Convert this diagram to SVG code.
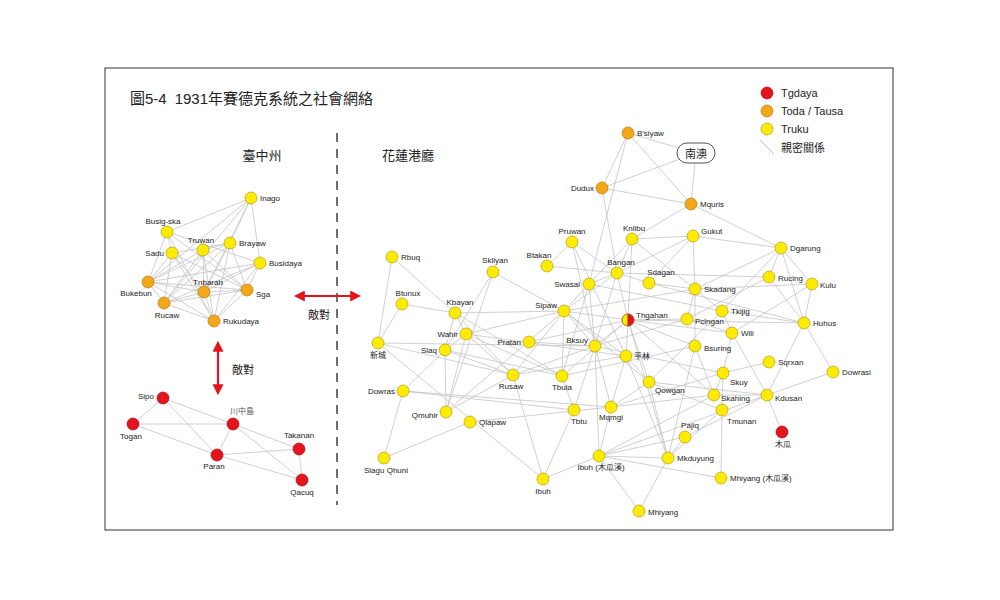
<svg xmlns="http://www.w3.org/2000/svg" width="1000" height="600" viewBox="0 0 1000 600">
<style>
text{font-family:"Liberation Sans","Noto Sans CJK TC",sans-serif;font-size:8px;fill:#222}
.e line{stroke:#c4c4c4;stroke-width:0.8}
.y{fill:#FFEB00;stroke:#B09A20;stroke-width:0.7}
.o{fill:#F2A818;stroke:#B07A10;stroke-width:0.7}
.r{fill:#E3141E;stroke:#A01010;stroke-width:0.7}
.m{text-anchor:middle}.l{text-anchor:end}
.h{font-size:13px}
</style>
<defs><marker id="a" viewBox="0 0 10 10" refX="8" refY="5" markerWidth="5" markerHeight="5" orient="auto-start-reverse"><path d="M0,0L10,5L0,10z" fill="#E3141E"/></marker></defs>
<rect width="1000" height="600" fill="#fff"/>
<rect x="105" y="68" width="788" height="462" fill="none" stroke="#333" stroke-width="1"/>
<text x="130" y="104" style="font-size:15px">圖5-4<tspan dx="8">1931年賽德克系統之社會網絡</tspan></text>
<g id="legend">
<circle cx="767" cy="93" r="6" class="r"/><text x="781" y="97" style="font-size:11px">Tgdaya</text>
<circle cx="767" cy="111" r="6" class="o"/><text x="781" y="115" style="font-size:11px">Toda / Tausa</text>
<circle cx="767" cy="129" r="6" class="y"/><text x="781" y="133" style="font-size:11px">Truku</text>
<line x1="760" y1="140" x2="774" y2="154" stroke="#c4c4c4"/><text x="781" y="152" style="font-size:11px">親密關係</text>
</g>
<text x="262" y="160" class="m h">臺中州</text>
<text x="408" y="160" class="m h">花蓮港廳</text>
<line x1="337" y1="133" x2="337" y2="505" stroke="#222" stroke-width="1.3" stroke-dasharray="9,7"/>
<g id="arrows" stroke="#E3141E" stroke-width="2.2" fill="none">
<line x1="296" y1="296" x2="359" y2="296" marker-start="url(#a)" marker-end="url(#a)"/>
<line x1="218" y1="343" x2="218" y2="393" marker-start="url(#a)" marker-end="url(#a)"/>
</g>
<text x="319" y="319" class="m" style="font-size:11px">敵對</text>
<text x="243" y="374" class="m" style="font-size:11px">敵對</text>
<g id="connectors" class="e">
<line x1="251" y1="198" x2="167" y2="232"/><line x1="251" y1="198" x2="230" y2="243"/><line x1="251" y1="198" x2="260" y2="263"/><line x1="251" y1="198" x2="148" y2="282"/><line x1="251" y1="198" x2="164" y2="303"/><line x1="251" y1="198" x2="204" y2="292"/>
<line x1="167" y1="232" x2="172" y2="253"/><line x1="167" y1="232" x2="148" y2="282"/><line x1="167" y1="232" x2="247" y2="290"/><line x1="167" y1="232" x2="214" y2="321"/><line x1="167" y1="232" x2="260" y2="263"/>
<line x1="172" y1="253" x2="148" y2="282"/><line x1="172" y1="253" x2="164" y2="303"/><line x1="172" y1="253" x2="214" y2="321"/><line x1="172" y1="253" x2="204" y2="292"/><line x1="172" y1="253" x2="247" y2="290"/><line x1="172" y1="253" x2="230" y2="243"/>
<line x1="203" y1="250" x2="148" y2="282"/><line x1="203" y1="250" x2="164" y2="303"/><line x1="203" y1="250" x2="204" y2="292"/><line x1="203" y1="250" x2="247" y2="290"/><line x1="203" y1="250" x2="214" y2="321"/><line x1="203" y1="250" x2="230" y2="243"/>
<line x1="230" y1="243" x2="148" y2="282"/><line x1="230" y1="243" x2="164" y2="303"/><line x1="230" y1="243" x2="214" y2="321"/><line x1="230" y1="243" x2="247" y2="290"/><line x1="230" y1="243" x2="204" y2="292"/>
<line x1="260" y1="263" x2="148" y2="282"/><line x1="260" y1="263" x2="164" y2="303"/><line x1="260" y1="263" x2="247" y2="290"/><line x1="260" y1="263" x2="204" y2="292"/><line x1="260" y1="263" x2="214" y2="321"/>
<line x1="148" y1="282" x2="204" y2="292"/><line x1="148" y1="282" x2="247" y2="290"/><line x1="148" y1="282" x2="164" y2="303"/><line x1="148" y1="282" x2="214" y2="321"/>
<line x1="204" y1="292" x2="247" y2="290"/><line x1="204" y1="292" x2="164" y2="303"/><line x1="204" y1="292" x2="214" y2="321"/><line x1="247" y1="290" x2="214" y2="321"/><line x1="247" y1="290" x2="164" y2="303"/><line x1="164" y1="303" x2="214" y2="321"/>
<line x1="163" y1="398" x2="133" y2="424"/><line x1="163" y1="398" x2="233" y2="424"/><line x1="163" y1="398" x2="217" y2="455"/><line x1="133" y1="424" x2="233" y2="424"/><line x1="133" y1="424" x2="217" y2="455"/><line x1="233" y1="424" x2="217" y2="455"/><line x1="233" y1="424" x2="299" y2="449"/><line x1="233" y1="424" x2="302" y2="480"/><line x1="217" y1="455" x2="299" y2="449"/><line x1="217" y1="455" x2="302" y2="480"/><line x1="299" y1="449" x2="302" y2="480"/>
<line x1="628" y1="133" x2="602" y2="188"/><line x1="628" y1="133" x2="696" y2="153"/><line x1="628" y1="133" x2="691" y2="204"/><line x1="602" y1="188" x2="696" y2="153"/><line x1="602" y1="188" x2="691" y2="204"/><line x1="696" y1="153" x2="691" y2="204"/><line x1="602" y1="188" x2="617" y2="273"/><line x1="691" y1="204" x2="781" y2="248"/><line x1="691" y1="204" x2="632" y2="239"/><line x1="628" y1="133" x2="589" y2="284"/>
<line x1="632" y1="239" x2="693" y2="236"/><line x1="632" y1="239" x2="617" y2="273"/><line x1="632" y1="239" x2="628" y2="320"/><line x1="632" y1="239" x2="695" y2="289"/><line x1="632" y1="239" x2="589" y2="284"/>
<line x1="693" y1="236" x2="781" y2="248"/><line x1="693" y1="236" x2="695" y2="289"/><line x1="693" y1="236" x2="649" y2="283"/><line x1="693" y1="236" x2="617" y2="273"/>
<line x1="781" y1="248" x2="769" y2="277"/><line x1="781" y1="248" x2="804" y2="323"/><line x1="781" y1="248" x2="695" y2="289"/><line x1="781" y1="248" x2="722" y2="311"/><line x1="781" y1="248" x2="812" y2="284"/>
<line x1="769" y1="277" x2="617" y2="273"/><line x1="769" y1="277" x2="804" y2="323"/><line x1="769" y1="277" x2="687" y2="319"/>
<line x1="812" y1="284" x2="804" y2="323"/><line x1="812" y1="284" x2="695" y2="289"/><line x1="812" y1="284" x2="732" y2="333"/>
<line x1="804" y1="323" x2="722" y2="311"/><line x1="804" y1="323" x2="628" y2="320"/><line x1="804" y1="323" x2="767" y2="395"/><line x1="804" y1="323" x2="833" y2="372"/><line x1="804" y1="323" x2="649" y2="283"/>
<line x1="695" y1="289" x2="649" y2="283"/><line x1="695" y1="289" x2="687" y2="319"/><line x1="695" y1="289" x2="722" y2="311"/><line x1="695" y1="289" x2="695" y2="346"/><line x1="695" y1="289" x2="564" y2="311"/>
<line x1="722" y1="311" x2="589" y2="284"/><line x1="722" y1="311" x2="732" y2="333"/><line x1="722" y1="311" x2="649" y2="382"/>
<line x1="687" y1="319" x2="628" y2="320"/><line x1="687" y1="319" x2="732" y2="333"/><line x1="687" y1="319" x2="595" y2="346"/>
<line x1="732" y1="333" x2="723" y2="373"/><line x1="732" y1="333" x2="767" y2="395"/><line x1="732" y1="333" x2="628" y2="320"/>
<line x1="695" y1="346" x2="714" y2="395"/><line x1="695" y1="346" x2="628" y2="320"/><line x1="695" y1="346" x2="562" y2="376"/><line x1="695" y1="346" x2="668" y2="458"/>
<line x1="769" y1="362" x2="723" y2="373"/><line x1="833" y1="372" x2="767" y2="395"/>
<line x1="723" y1="373" x2="714" y2="395"/><line x1="723" y1="373" x2="722" y2="410"/><line x1="723" y1="373" x2="595" y2="346"/><line x1="723" y1="373" x2="611" y2="407"/>
<line x1="714" y1="395" x2="767" y2="395"/><line x1="714" y1="395" x2="628" y2="320"/><line x1="714" y1="395" x2="611" y2="407"/><line x1="714" y1="395" x2="599" y2="456"/>
<line x1="767" y1="395" x2="782" y2="432"/><line x1="767" y1="395" x2="685" y2="437"/><line x1="767" y1="395" x2="649" y2="382"/><line x1="767" y1="395" x2="599" y2="456"/>
<line x1="722" y1="410" x2="721" y2="478"/><line x1="722" y1="410" x2="649" y2="382"/><line x1="722" y1="410" x2="668" y2="458"/>
<line x1="685" y1="437" x2="599" y2="456"/><line x1="685" y1="437" x2="668" y2="458"/>
<line x1="668" y1="458" x2="639" y2="511"/><line x1="668" y1="458" x2="599" y2="456"/><line x1="668" y1="458" x2="626" y2="356"/><line x1="668" y1="458" x2="628" y2="320"/>
<line x1="599" y1="456" x2="721" y2="478"/><line x1="599" y1="456" x2="639" y2="511"/><line x1="599" y1="456" x2="543" y2="479"/><line x1="599" y1="456" x2="611" y2="407"/><line x1="599" y1="456" x2="595" y2="346"/>
<line x1="543" y1="479" x2="574" y2="410"/><line x1="543" y1="479" x2="378" y2="343"/><line x1="574" y1="410" x2="562" y2="376"/><line x1="574" y1="410" x2="595" y2="346"/>
<line x1="617" y1="273" x2="589" y2="284"/><line x1="617" y1="273" x2="649" y2="283"/><line x1="617" y1="273" x2="547" y2="266"/><line x1="617" y1="273" x2="628" y2="320"/><line x1="617" y1="273" x2="564" y2="311"/><line x1="617" y1="273" x2="595" y2="346"/>
<line x1="572" y1="242" x2="547" y2="266"/><line x1="572" y1="242" x2="617" y2="273"/><line x1="572" y1="242" x2="595" y2="346"/><line x1="572" y1="242" x2="626" y2="356"/>
<line x1="493" y1="272" x2="564" y2="311"/><line x1="493" y1="272" x2="446" y2="412"/><line x1="493" y1="272" x2="445" y2="350"/>
<line x1="564" y1="311" x2="455" y2="313"/><line x1="564" y1="311" x2="466" y2="334"/><line x1="564" y1="311" x2="513" y2="375"/><line x1="564" y1="311" x2="595" y2="346"/><line x1="564" y1="311" x2="626" y2="356"/><line x1="564" y1="311" x2="562" y2="376"/><line x1="564" y1="311" x2="628" y2="320"/><line x1="564" y1="311" x2="589" y2="284"/><line x1="564" y1="311" x2="649" y2="382"/>
<line x1="589" y1="284" x2="595" y2="346"/><line x1="589" y1="284" x2="562" y2="376"/>
<line x1="628" y1="320" x2="626" y2="356"/><line x1="628" y1="320" x2="595" y2="346"/><line x1="628" y1="320" x2="649" y2="382"/><line x1="628" y1="320" x2="562" y2="376"/><line x1="628" y1="320" x2="529" y2="342"/>
<line x1="595" y1="346" x2="611" y2="407"/><line x1="595" y1="346" x2="513" y2="375"/><line x1="595" y1="346" x2="529" y2="342"/>
<line x1="626" y1="356" x2="611" y2="407"/><line x1="626" y1="356" x2="513" y2="375"/><line x1="626" y1="356" x2="649" y2="382"/><line x1="626" y1="356" x2="466" y2="334"/>
<line x1="649" y1="382" x2="611" y2="407"/><line x1="649" y1="382" x2="668" y2="458"/>
<line x1="562" y1="376" x2="455" y2="313"/>
<line x1="513" y1="375" x2="455" y2="313"/><line x1="513" y1="375" x2="445" y2="350"/><line x1="513" y1="375" x2="466" y2="334"/><line x1="513" y1="375" x2="543" y2="479"/><line x1="513" y1="375" x2="446" y2="412"/>
<line x1="611" y1="407" x2="403" y2="391"/>
<line x1="392" y1="257" x2="455" y2="313"/><line x1="392" y1="257" x2="378" y2="343"/><line x1="402" y1="304" x2="455" y2="313"/><line x1="402" y1="304" x2="378" y2="343"/>
<line x1="378" y1="343" x2="595" y2="346"/><line x1="378" y1="343" x2="513" y2="375"/>
<line x1="455" y1="313" x2="466" y2="334"/><line x1="455" y1="313" x2="445" y2="350"/>
<line x1="466" y1="334" x2="446" y2="412"/><line x1="466" y1="334" x2="445" y2="350"/><line x1="466" y1="334" x2="562" y2="376"/>
<line x1="445" y1="350" x2="446" y2="412"/><line x1="445" y1="350" x2="403" y2="391"/><line x1="445" y1="350" x2="562" y2="376"/>
<line x1="403" y1="391" x2="384" y2="458"/><line x1="403" y1="391" x2="574" y2="410"/>
<line x1="446" y1="412" x2="564" y2="311"/>
<line x1="470" y1="422" x2="384" y2="458"/><line x1="470" y1="422" x2="611" y2="407"/>
</g>
<g id="nodes">
<g id="n-inago"><circle cx="251" cy="198" r="6" class="y"/><text x="260" y="201">Inago</text></g>
<g id="n-busigska"><circle cx="167" cy="232" r="6" class="y"/><text x="163" y="224" class="m">Busig-ska</text></g>
<g id="n-truwan"><circle cx="203" cy="250" r="6" class="y"/><text x="201" y="243" class="m">Truwan</text></g>
<g id="n-brayaw"><circle cx="230" cy="243" r="6" class="y"/><text x="239" y="246">Brayaw</text></g>
<g id="n-sadu"><circle cx="172" cy="253" r="6" class="y"/><text x="164" y="256" class="l">Sadu</text></g>
<g id="n-busidaya"><circle cx="260" cy="263" r="6" class="y"/><text x="269" y="266">Busidaya</text></g>
<g id="n-bukebun"><circle cx="148" cy="282" r="6" class="o"/><text x="136" y="296" class="m">Bukebun</text></g>
<g id="n-tnbarah"><circle cx="204" cy="292" r="6" class="o"/><text x="208" y="285" class="m">Tnbarah</text></g>
<g id="n-sga"><circle cx="247" cy="290" r="6" class="o"/><text x="256" y="297">Sga</text></g>
<g id="n-rucaw"><circle cx="164" cy="303" r="6" class="o"/><text x="167" y="318" class="m">Rucaw</text></g>
<g id="n-rukudaya"><circle cx="214" cy="321" r="6" class="o"/><text x="223" y="324">Rukudaya</text></g>
<g id="n-sipo"><circle cx="163" cy="398" r="6" class="r"/><text x="154" y="399" class="l">Sipo</text></g>
<g id="n-togan"><circle cx="133" cy="424" r="6" class="r"/><text x="131" y="439" class="m">Togan</text></g>
<g id="n-kawanakajima"><circle cx="233" cy="424" r="6" class="r"/><text x="242" y="414" class="m" style="fill:#555">川中島</text></g>
<g id="n-takanan"><circle cx="299" cy="449" r="6" class="r"/><text x="299" y="438" class="m">Takanan</text></g>
<g id="n-paran"><circle cx="217" cy="455" r="6" class="r"/><text x="214" y="469" class="m">Paran</text></g>
<g id="n-qacuq"><circle cx="302" cy="480" r="6" class="r"/><text x="302" y="495" class="m">Qacuq</text></g>
<g id="n-nanao"><rect x="677" y="143" width="38" height="20" rx="10" fill="#fff" stroke="#444" stroke-width="0.9"/><text x="696" y="158" class="m" style="font-size:11px">南澳</text></g>
<g id="n-bsiyaw"><circle cx="628" cy="133" r="6" class="o"/><text x="637" y="136">B'siyaw</text></g>
<g id="n-dudux"><circle cx="602" cy="188" r="6" class="o"/><text x="594" y="191" class="l">Dudux</text></g>
<g id="n-mquris"><circle cx="691" cy="204" r="6" class="o"/><text x="700" y="207">Mquris</text></g>
<g id="n-gukut"><circle cx="693" cy="236" r="6" class="y"/><text x="701" y="234">Gukut</text></g>
<g id="n-dgarung"><circle cx="781" cy="248" r="6" class="y"/><text x="790" y="251">Dgarung</text></g>
<g id="n-rucing"><circle cx="769" cy="277" r="6" class="y"/><text x="778" y="281">Rucing</text></g>
<g id="n-kulu"><circle cx="812" cy="284" r="6" class="y"/><text x="820" y="288">Kulu</text></g>
<g id="n-skadang"><circle cx="695" cy="289" r="6" class="y"/><text x="704" y="292">Skadang</text></g>
<g id="n-tkijig"><circle cx="722" cy="311" r="6" class="y"/><text x="731" y="314">Tkijig</text></g>
<g id="n-pclngan"><circle cx="687" cy="319" r="6" class="y"/><text x="695" y="324">Pclngan</text></g>
<g id="n-huhus"><circle cx="804" cy="323" r="6" class="y"/><text x="813" y="326">Huhus</text></g>
<g id="n-wili"><circle cx="732" cy="333" r="6" class="y"/><text x="741" y="336">Wili</text></g>
<g id="n-bsuring"><circle cx="695" cy="346" r="6" class="y"/><text x="704" y="351">Bsuring</text></g>
<g id="n-sqrxan"><circle cx="769" cy="362" r="6" class="y"/><text x="778" y="365">Sqrxan</text></g>
<g id="n-dowrasi"><circle cx="833" cy="372" r="6" class="y"/><text x="842" y="375">Dowrasi</text></g>
<g id="n-skuy"><circle cx="723" cy="373" r="6" class="y"/><text x="730" y="385">Skuy</text></g>
<g id="n-skahing"><circle cx="714" cy="395" r="6" class="y"/><text x="721" y="401">Skahing</text></g>
<g id="n-kdusan"><circle cx="767" cy="395" r="6" class="y"/><text x="775" y="401">Kdusan</text></g>
<g id="n-tmunan"><circle cx="722" cy="410" r="6" class="y"/><text x="727" y="424">Tmunan</text></g>
<g id="n-mugua"><circle cx="782" cy="432" r="6" class="r"/><text x="783" y="447" class="m">木瓜</text></g>
<g id="n-pajiq"><circle cx="685" cy="437" r="6" class="y"/><text x="690" y="428" class="m">Pajiq</text></g>
<g id="n-mkduyung"><circle cx="668" cy="458" r="6" class="y"/><text x="677" y="461">Mkduyung</text></g>
<g id="n-mhiyang2"><circle cx="721" cy="478" r="6" class="y"/><text x="730" y="481">Mhiyang (木瓜溪)</text></g>
<g id="n-mhiyang"><circle cx="639" cy="511" r="6" class="y"/><text x="648" y="515">Mhiyang</text></g>
<g id="n-ibuh2"><circle cx="599" cy="456" r="6" class="y"/><text x="601" y="470" class="m">Ibuh (木瓜溪)</text></g>
<g id="n-ibuh"><circle cx="543" cy="479" r="6" class="y"/><text x="543" y="494" class="m">Ibuh</text></g>
<g id="n-knlibu"><circle cx="632" cy="239" r="6" class="y"/><text x="634" y="231" class="m">Knlibu</text></g>
<g id="n-pruwan"><circle cx="572" cy="242" r="6" class="y"/><text x="572" y="234" class="m">Pruwan</text></g>
<g id="n-btakan"><circle cx="547" cy="266" r="6" class="y"/><text x="539" y="258" class="m">Btakan</text></g>
<g id="n-bangan"><circle cx="617" cy="273" r="6" class="y"/><text x="621" y="265" class="m">Bangan</text></g>
<g id="n-sdagan"><circle cx="649" cy="283" r="6" class="y"/><text x="661" y="275" class="m">Sdagan</text></g>
<g id="n-swasal"><circle cx="589" cy="284" r="6" class="y"/><text x="580" y="287" class="l">Swasal</text></g>
<g id="n-skliyan"><circle cx="493" cy="272" r="6" class="y"/><text x="495" y="263" class="m">Skliyan</text></g>
<g id="n-sipaw"><circle cx="564" cy="311" r="6" class="y"/><text x="557" y="308" class="l">Sipaw</text></g>
<g id="n-thgahan"><path d="M628,314a6,6 0 0 0 0,12z" class="y"/><path d="M628,314a6,6 0 0 1 0,12z" class="r"/><circle cx="628" cy="320" r="6" fill="none" stroke="#A07010" stroke-width="0.7"/><text x="636" y="318">Thgahan</text></g>
<g id="n-pratan"><circle cx="529" cy="342" r="6" class="y"/><text x="521" y="345" class="l">Pratan</text></g>
<g id="n-bksuy"><circle cx="595" cy="346" r="6" class="y"/><text x="588" y="343" class="l">Bksuy</text></g>
<g id="n-pinglin"><circle cx="626" cy="356" r="6" class="y"/><text x="634" y="359">平林</text></g>
<g id="n-rusaw"><circle cx="513" cy="375" r="6" class="y"/><text x="511" y="389" class="m">Rusaw</text></g>
<g id="n-tbula"><circle cx="562" cy="376" r="6" class="y"/><text x="562" y="390" class="m">Tbula</text></g>
<g id="n-qowgan"><circle cx="649" cy="382" r="6" class="y"/><text x="655" y="393">Qowgan</text></g>
<g id="n-tbtu"><circle cx="574" cy="410" r="6" class="y"/><text x="579" y="424" class="m">Tbtu</text></g>
<g id="n-mqmgi"><circle cx="611" cy="407" r="6" class="y"/><text x="611" y="420" class="m">Mqmgi</text></g>
<g id="n-rbuq"><circle cx="392" cy="257" r="6" class="y"/><text x="401" y="260">Rbuq</text></g>
<g id="n-btunux"><circle cx="402" cy="304" r="6" class="y"/><text x="408" y="296" class="m">Btunux</text></g>
<g id="n-xincheng"><circle cx="378" cy="343" r="6" class="y"/><text x="378" y="358" class="m">新城</text></g>
<g id="n-kbayan"><circle cx="455" cy="313" r="6" class="y"/><text x="460" y="305" class="m">Kbayan</text></g>
<g id="n-wahir"><circle cx="466" cy="334" r="6" class="y"/><text x="458" y="337" class="l">Wahir</text></g>
<g id="n-slaq"><circle cx="445" cy="350" r="6" class="y"/><text x="437" y="353" class="l">Slaq</text></g>
<g id="n-dowras"><circle cx="403" cy="391" r="6" class="y"/><text x="395" y="394" class="l">Dowras</text></g>
<g id="n-qmuhir"><circle cx="446" cy="412" r="6" class="y"/><text x="438" y="418" class="l">Qmuhir</text></g>
<g id="n-qlapaw"><circle cx="470" cy="422" r="6" class="y"/><text x="479" y="425">Qlapaw</text></g>
<g id="n-slagu"><circle cx="384" cy="458" r="6" class="y"/><text x="386" y="473" class="m">Slagu Qhuni</text></g>
</g>
</svg>
